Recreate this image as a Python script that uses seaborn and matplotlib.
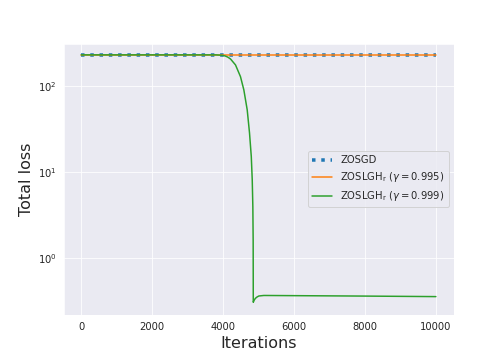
import numpy as np
import pandas as pd
import matplotlib
matplotlib.use("Agg")
import matplotlib.pyplot as plt
import seaborn as sns

sns.set_style("darkgrid")

# Data
zosgd_iters = [0, 10000]
zosgd_loss = [229, 229]

lgh995_iters = [0, 10000]
lgh995_loss = [229, 229]

lgh999_iters = [0, 3800, 3950, 4050, 4130, 4210, 4350, 4490, 4585, 4680, 4745, 4795,
                4822, 4839, 4848, 4850, 4851, 4880, 4915, 4960, 5010, 5150, 5620,
                8000, 10000]
lgh999_loss = [229, 229, 227, 223, 216, 205, 175, 128, 89.8, 52.6, 28.4, 15.1,
               8.07, 3.95, 1.6, 0.6, 0.305, 0.325, 0.34, 0.352, 0.361, 0.366, 0.365,
               0.36, 0.355]

labels = ["ZOSGD",
          r"ZOSLGH$_\mathrm{r}$ ($\gamma = 0.995$)",
          r"ZOSLGH$_\mathrm{r}$ ($\gamma = 0.999$)"]

fig, ax = plt.subplots(figsize=(7, 5), dpi=72)
fig.subplots_adjust(left=0.126, right=0.9, bottom=0.125, top=0.878)

pal = sns.color_palette()
sns.lineplot(x=zosgd_iters, y=zosgd_loss, ax=ax, color=pal[0], linestyle=":",
             linewidth=3.5, label=labels[0])
sns.lineplot(x=lgh995_iters, y=lgh995_loss, ax=ax, color=pal[1], linewidth=1.5,
             label=labels[1])
sns.lineplot(x=lgh999_iters, y=lgh999_loss, ax=ax, color=pal[2], linewidth=1.5,
             label=labels[2])

ax.set_yscale("log")
ax.set_xlim(-500, 10500)
ax.set_ylim(0.217, 307)
ax.set_xlabel("Iterations", fontsize=16)
ax.set_ylabel("Total loss", fontsize=16)
ax.legend(loc="center right")

fig.savefig("out.png", dpi=72)
